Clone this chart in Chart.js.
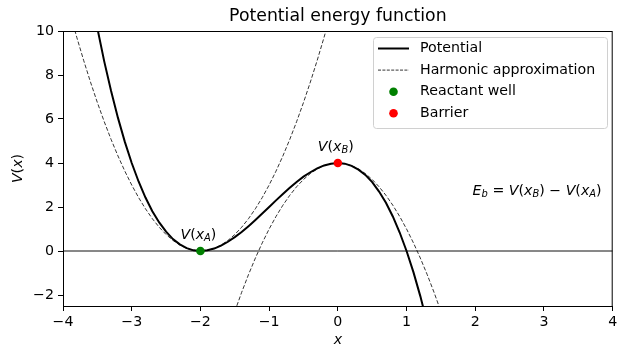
<!DOCTYPE html>
<html>
<head>
<meta charset="utf-8">
<script src="https://cdn.jsdelivr.net/npm/chart.js@4.4.0/dist/chart.umd.min.js"></script>
<style>
  html, body { margin: 0; padding: 0; background: #fff; }
  #wrap { width: 617px; height: 349px; }
</style>
</head>
<body>
<div id="wrap"><canvas id="chart" width="617" height="349"></canvas></div>
<script>
// --- data ---
const xGrid = [-3.9, -3.8, -3.7, -3.6, -3.5, -3.4, -3.3, -3.2, -3.1, -3.0,
  -2.9, -2.8, -2.7, -2.6, -2.5, -2.4, -2.3, -2.2, -2.1, -2.0,
  -1.9, -1.8, -1.7, -1.6, -1.5, -1.4, -1.3, -1.2, -1.1, -1.0,
  -0.9, -0.8, -0.7, -0.6, -0.5, -0.4, -0.3, -0.2, -0.1, 0.0,
  0.1, 0.2, 0.3, 0.4, 0.5, 0.6, 0.7, 0.8, 0.9, 1.0,
  1.1, 1.2, 1.3, 1.4, 1.5];

const potential = [null, null, null, 11.78, 10.13, 8.62, 7.27, 6.05, 4.96, 4.0,
  3.16, 2.43, 1.81, 1.30, 0.88, 0.54, 0.30, 0.13, 0.03, 0.0,
  0.03, 0.11, 0.24, 0.42, 0.63, 0.86, 1.13, 1.41, 1.70, 2.0,
  2.30, 2.59, 2.87, 3.14, 3.38, 3.58, 3.76, 3.89, 3.97, 4.0,
  3.97, 3.87, 3.70, 3.46, 3.13, 2.70, 2.19, 1.57, 0.84, 0.0,
  -0.96, -2.05, -3.27, null, null];

const harmonicA = [10.83, 9.72, 8.67, 7.68, 6.75, 5.88, 5.07, 4.32, 3.63, 3.0,
  2.43, 1.92, 1.47, 1.08, 0.75, 0.48, 0.27, 0.12, 0.03, 0.0,
  0.03, 0.12, 0.27, 0.48, 0.75, 1.08, 1.47, 1.92, 2.43, 3.0,
  3.63, 4.32, 5.07, 5.88, 6.75, 7.68, 8.67, 9.72, 10.83, null,
  null, null, null, null, null, null, null, null, null, null,
  null, null, null, null, null];

const harmonicB = [null, null, null, null, null, null, null, null, null, null,
  null, null, null, null, null, null, null, null, null, null,
  null, null, null, null, -2.75, -1.88, -1.07, -0.32, 0.37, 1.0,
  1.57, 2.08, 2.53, 2.92, 3.25, 3.52, 3.73, 3.88, 3.97, 4.0,
  3.97, 3.88, 3.73, 3.52, 3.25, 2.92, 2.53, 2.08, 1.57, 1.0,
  0.37, -0.32, -1.07, -1.88, -2.75];

const reactantWell = [{ x: -2, y: 0 }];
const barrierTop = [{ x: 0, y: 4 }];
const zeroLine = [{ x: -4, y: 0 }, { x: 4, y: 0 }];

const xTicks = [-4, -3, -2, -1, 0, 1, 2, 3, 4];
const yTicks = [-2, 0, 2, 4, 6, 8, 10];

const legendItems = [
  { label: 'Potential', kind: 'line' },
  { label: 'Harmonic approximation', kind: 'dash' },
  { label: 'Reactant well', kind: 'dot', color: 'green' },
  { label: 'Barrier', kind: 'dot', color: 'red' }
];

const toXY = (ys) => xGrid.map((x, i) => ({ x: x, y: ys[i] }));
const FONT = "'DejaVu Sans', sans-serif";
const FS = 14.2;

// draws mathtext-ish runs: [text, italic, subscript]
function drawMath(ctx, runs, cx, cy, size, align) {
  const fontFor = (r) => (r[1] ? 'oblique ' : '') + (r[2] ? size * 0.7 : size) + 'px ' + FONT;
  let total = 0;
  runs.forEach(r => { ctx.font = fontFor(r); total += ctx.measureText(r[0]).width; });
  let x = align === 'center' ? cx - total / 2 : cx;
  ctx.textBaseline = 'middle';
  ctx.textAlign = 'left';
  runs.forEach(r => {
    ctx.font = fontFor(r);
    ctx.fillText(r[0], x, r[2] ? cy + size * 0.22 : cy);
    x += ctx.measureText(r[0]).width;
  });
}

const decorations = {
  id: 'decorations',
  afterDraw(chart) {
    const { ctx, chartArea: a, scales } = chart;
    const sx = scales.x, sy = scales.y;
    ctx.save();
    ctx.fillStyle = '#000';

    // frame on all four sides
    ctx.strokeStyle = '#000';
    ctx.lineWidth = 1;
    ctx.strokeRect(a.left + 0.5, a.top + 0.5, a.right - a.left - 1, a.bottom - a.top);

    // title
    ctx.font = '17.3px ' + FONT;
    ctx.textAlign = 'center';
    ctx.textBaseline = 'middle';
    ctx.fillText('Potential energy function', (a.left + a.right) / 2, 17);

    // axis titles
    drawMath(ctx, [['x', true, false]], (a.left + a.right) / 2, 340, FS, 'center');
    ctx.save();
    ctx.translate(18, (a.top + a.bottom) / 2);
    ctx.rotate(-Math.PI / 2);
    drawMath(ctx, [['V', true, false], ['(', false, false], ['x', true, false], [')', false, false]], 0, 0, FS, 'center');
    ctx.restore();

    // point annotations
    drawMath(ctx, [['V', true, false], ['(', false, false], ['x', true, false], ['A', true, true], [')', false, false]],
      sx.getPixelForValue(-2) - 2, sy.getPixelForValue(0) - 16, FS, 'center');
    drawMath(ctx, [['V', true, false], ['(', false, false], ['x', true, false], ['B', true, true], [')', false, false]],
      sx.getPixelForValue(0) - 2, sy.getPixelForValue(4) - 16, FS, 'center');

    // barrier height formula
    drawMath(ctx, [['E', true, false], ['b', true, true], [' = ', false, false],
      ['V', true, false], ['(', false, false], ['x', true, false], ['B', true, true], [')', false, false],
      [' \u2212 ', false, false],
      ['V', true, false], ['(', false, false], ['x', true, false], ['A', true, true], [')', false, false]],
      sx.getPixelForValue(2.9), sy.getPixelForValue(2.7), FS, 'center');

    // legend
    const lx = 373, ly = 37, lw = 234, lh = 91;
    ctx.beginPath();
    ctx.roundRect(lx + 0.5, ly + 0.5, lw, lh, 3);
    ctx.fillStyle = 'rgba(255,255,255,0.8)';
    ctx.fill();
    ctx.strokeStyle = '#d0d0d0';
    ctx.lineWidth = 1;
    ctx.stroke();
    legendItems.forEach((it, i) => {
      const y = 48.5 + i * 21.6;
      ctx.strokeStyle = '#000';
      if (it.kind === 'line') {
        ctx.lineWidth = 2;
        ctx.setLineDash([]);
        ctx.beginPath(); ctx.moveTo(378, y); ctx.lineTo(409, y); ctx.stroke();
      } else if (it.kind === 'dash') {
        ctx.lineWidth = 0.8;
        ctx.setLineDash([3, 1.4]);
        ctx.beginPath(); ctx.moveTo(378, y); ctx.lineTo(409, y); ctx.stroke();
        ctx.setLineDash([]);
      } else {
        ctx.fillStyle = it.color;
        ctx.beginPath(); ctx.arc(393.5, y, 4.3, 0, Math.PI * 2); ctx.fill();
      }
      ctx.fillStyle = '#000';
      ctx.font = FS + 'px ' + FONT;
      ctx.textAlign = 'left';
      ctx.textBaseline = 'middle';
      ctx.fillText(it.label, 420, y);
    });
    ctx.restore();
  }
};

const minus = (v) => String(v).replace('-', '\u2212');

new Chart(document.getElementById('chart'), {
  type: 'scatter',
  data: {
    datasets: [
      { data: reactantWell, backgroundColor: 'green', borderWidth: 0, pointRadius: 4.3, showLine: false, order: 0 },
      { data: barrierTop, backgroundColor: 'red', borderWidth: 0, pointRadius: 4.3, showLine: false, order: 0 },
      { data: toXY(potential), borderColor: '#000', borderWidth: 2, pointRadius: 0, showLine: true, spanGaps: false, order: 1 },
      { data: toXY(harmonicA), borderColor: '#000', borderWidth: 0.8, borderDash: [4, 2], pointRadius: 0, showLine: true, order: 2 },
      { data: toXY(harmonicB), borderColor: '#000', borderWidth: 0.8, borderDash: [4, 2], pointRadius: 0, showLine: true, order: 2 },
      { data: zeroLine, borderColor: '#111', borderWidth: 1, pointRadius: 0, showLine: true, order: 3 }
    ]
  },
  options: {
    responsive: false,
    devicePixelRatio: 1,
    animation: false,
    layout: { padding: { top: 31, right: 4, left: 0, bottom: 0 } },
    plugins: { legend: { display: false }, tooltip: { enabled: false } },
    scales: {
      x: {
        type: 'linear', min: -4, max: 4,
        afterBuildTicks: (s) => { s.ticks = xTicks.map(v => ({ value: v })); },
        afterFit: (s) => { s.height = 43; s.paddingRight = 0; s.paddingLeft = 0; },
        grid: { drawOnChartArea: false, drawTicks: true, tickLength: 5, color: '#000', tickColor: '#000' },
        border: { color: '#000', width: 1 },
        ticks: { color: '#000', padding: 3, maxRotation: 0, font: { family: 'DejaVu Sans', size: FS }, callback: (v) => minus(v) }
      },
      y: {
        type: 'linear', min: -2.5, max: 10,
        afterBuildTicks: (s) => { s.ticks = yTicks.map(v => ({ value: v })); },
        afterFit: (s) => { s.width = 63; s.paddingTop = 0; s.paddingBottom = 0; },
        grid: { drawOnChartArea: false, drawTicks: true, tickLength: 5, color: '#000', tickColor: '#000' },
        border: { color: '#000', width: 1 },
        ticks: { color: '#000', padding: 4, font: { family: 'DejaVu Sans', size: FS }, callback: (v) => minus(v) }
      }
    }
  },
  plugins: [decorations]
});
</script>
</body>
</html>
